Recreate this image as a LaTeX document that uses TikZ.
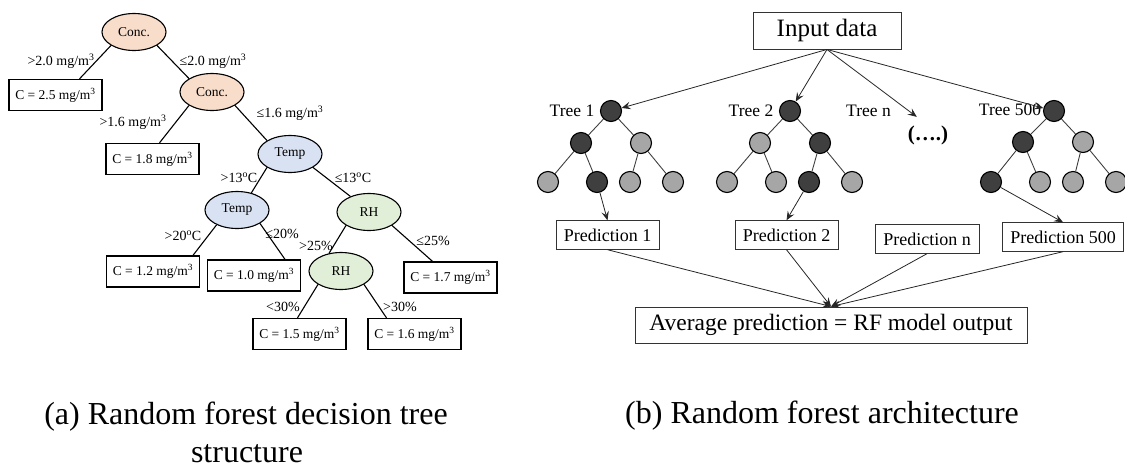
\documentclass[tikz,border=0pt]{standalone}
\usepackage{fontspec}
\setmainfont{Liberation Serif}
\usetikzlibrary{arrows.meta,shapes.geometric}

\definecolor{concfill}{HTML}{F8DDCB}
\definecolor{tempfill}{HTML}{D9E2F2}
\definecolor{rhfill}{HTML}{E1EFD8}
\definecolor{darknode}{HTML}{3F3F3F}
\definecolor{lightnode}{HTML}{A6A6A6}
\definecolor{edgegray}{HTML}{404040}

\tikzset{
  split/.style={ellipse, draw=black, line width=1.1pt, minimum width=64pt,
    minimum height=37pt, inner sep=0pt, font=\fontsize{13.5}{16}\selectfont},
  leafbox/.style={rectangle, draw=black, line width=1.3pt, minimum width=93pt,
    minimum height=31pt, inner sep=0pt, font=\fontsize{13.5}{16}\selectfont},
  cond/.style={inner sep=0pt, font=\fontsize{14}{16}\selectfont},
  tedge/.style={draw=black, line width=1.1pt},
  dnode/.style={circle, draw=black, line width=1.1pt, fill=darknode,
    minimum size=21pt, inner sep=0pt},
  lnode/.style={circle, draw=black, line width=1.1pt, fill=lightnode,
    minimum size=21pt, inner sep=0pt},
  branch/.style={draw=edgegray, line width=0.9pt},
  flow/.style={draw=black!85, line width=0.8pt,
    -{Stealth[length=9pt,width=7.5pt,inset=3.5pt]}},
  predbox/.style={rectangle, draw=black!80, line width=0.9pt, minimum height=28.5pt,
    inner sep=0pt, font=\fontsize{18}{20}\selectfont},
  treelabel/.style={inner sep=0pt, font=\fontsize{17.5}{20}\selectfont},
  caption/.style={inner sep=0pt, anchor=base, font=\fontsize{32}{36}\selectfont}
}

\begin{document}
\begin{tikzpicture}[x=1pt, y=-1pt]
\useasboundingbox (0,0) rectangle (1125,469);

% ---------------- (a) single decision tree ----------------
\node[split, fill=concfill] (conc1) at (134,32) {Conc.};
\node[split, fill=concfill] (conc2) at (212,92) {Conc.};
\node[split, fill=tempfill] (temp1) at (290,154) {Temp};
\node[split, fill=tempfill] (temp2) at (237,210) {Temp};
\node[split, fill=rhfill] (rh1) at (369,212) {RH};
\node[split, fill=rhfill] (rh2) at (341,271) {RH};

\node[leafbox] (c25) at (55.5,95) {C = 2.5 mg/m\textsuperscript{3}};
\node[leafbox] (c18) at (152.5,159) {C = 1.8 mg/m\textsuperscript{3}};
\node[leafbox] (c12) at (153,271.5) {C = 1.2 mg/m\textsuperscript{3}};
\node[leafbox] (c10) at (254,275.5) {C = 1.0 mg/m\textsuperscript{3}};
\node[leafbox] (c17) at (450.5,277.5) {C = 1.7 mg/m\textsuperscript{3}};
\node[leafbox] (c15) at (299.5,334) {C = 1.5 mg/m\textsuperscript{3}};
\node[leafbox] (c16) at (414.5,334) {C = 1.6 mg/m\textsuperscript{3}};

\draw[tedge] (conc1.south west) -- ([xshift=24pt]c25.north);
\draw[tedge] (conc1.south east) -- (conc2.north west);
\draw[tedge] (conc2.south west) -- ([xshift=7pt]c18.north);
\draw[tedge] (conc2.south east) -- (temp1.north west);
\draw[tedge] (temp1.south west) -- (temp2.50);
\draw[tedge] (temp1.south east) -- (rh1.140);
\draw[tedge] (temp2.216) -- ([xshift=40pt]c12.north);
\draw[tedge] (temp2.south east) -- ([xshift=31pt]c10.north);
\draw[tedge] (rh1.south west) -- (rh2.124);
\draw[tedge] (rh1.south east) -- ([xshift=-18pt]c17.north);
\draw[tedge] (rh2.south west) -- ([xshift=-2pt]c15.north);
\draw[tedge] (rh2.south east) -- ([xshift=-28pt]c16.north);

\node[cond] (l1) at (61,61) {>2.0 mg/m\textsuperscript{3}};
\node[cond] (l2) at (213,61) {≤2.0 mg/m\textsuperscript{3}};
\node[cond] (l3) at (133,122) {>1.6 mg/m\textsuperscript{3}};
\node[cond] (l4) at (290,113) {≤1.6 mg/m\textsuperscript{3}};
\node[cond] (l5) at (239,178) {>13\textsuperscript{o}C};
\node[cond] (l6) at (353,178) {≤13\textsuperscript{o}C};
\node[cond] (l7) at (183,236) {>20\textsuperscript{o}C};
\node[cond] (l8) at (282,234) {≤20\%};
\node[cond] (l9) at (316,246) {>25\%};
\node[cond] (l10) at (433,241) {≤25\%};
\node[cond] (l11) at (283,307) {<30\%};
\node[cond] (l12) at (400,307) {>30\%};

% ---------------- (b) forest of trees ----------------
\node[rectangle, draw=black!80, line width=0.9pt, minimum width=148pt, minimum height=37pt,
  inner sep=0pt, font=\fontsize{25}{28}\selectfont] (input) at (827,30.5) {Input data};

% tree 1
\node[dnode] (t1r) at (611,111) {};
\node[dnode] (t1a) at (581,143) {};
\node[lnode] (t1b) at (641,143) {};
\node[lnode] (t1c1) at (548,182) {};
\node[dnode] (t1c2) at (597,182) {};
\node[lnode] (t1c3) at (630,182) {};
\node[lnode] (t1c4) at (673,182) {};
% tree 2
\node[dnode] (t2r) at (790,111) {};
\node[lnode] (t2a) at (760,143) {};
\node[dnode] (t2b) at (820,143) {};
\node[lnode] (t2c1) at (727,182) {};
\node[lnode] (t2c2) at (776,182) {};
\node[dnode] (t2c3) at (809,182) {};
\node[lnode] (t2c4) at (852,182) {};
% tree 500
\node[dnode] (t5r) at (1054,111) {};
\node[dnode] (t5a) at (1023,142) {};
\node[lnode] (t5b) at (1083,142) {};
\node[dnode] (t5c1) at (991,182) {};
\node[lnode] (t5c2) at (1040,182) {};
\node[lnode] (t5c3) at (1073,182) {};
\node[lnode] (t5c4) at (1116,182) {};

\foreach \t in {t1,t2,t5}{
  \draw[branch] (\t r) -- (\t a);
  \draw[branch] (\t r) -- (\t b);
  \draw[branch] (\t a) -- (\t c1);
  \draw[branch] (\t a) -- (\t c2);
  \draw[branch] (\t b) -- (\t c3);
  \draw[branch] (\t b) -- (\t c4);
}

\node[treelabel] (tl1) at (572,111) {Tree 1};
\node[treelabel] (tl2) at (751,111) {Tree 2};
\node[treelabel] (tln) at (868.5,111) {Tree n};
\node[treelabel] (tl5) at (1010,110) {Tree 500};
\node[inner sep=0pt, font=\fontsize{21}{24}\selectfont\bfseries] (dots) at (928,135) {(….)};

\node[predbox, minimum width=103pt] (p1) at (607.5,235) {Prediction 1};
\node[predbox, minimum width=103pt] (p2) at (786.5,235) {Prediction 2};
\node[predbox, minimum width=104pt] (pn) at (927,239) {Prediction n};
\node[predbox, minimum width=121pt] (p5) at (1063,237) {Prediction 500};

\node[rectangle, draw=black!80, line width=0.9pt, minimum width=392pt, minimum height=36pt,
  inner sep=0pt, font=\fontsize{23.5}{26}\selectfont] (avg) at (831,325)
  {Average prediction = RF model output};

\draw[flow] (input.south) -- (t1r);
\draw[flow] (input.south) -- (t2r);
\draw[flow, shorten >=14pt] (input.south) -- (dots.north);
\draw[flow] (input.south) -- (t5r);

\draw[flow] (t1c2) -- (p1.north);
\draw[flow] (t2c3) -- (p2.north);
\draw[flow] (t5c1) -- (p5.north);

\draw[flow] (p1.south) -- (avg.north);
\draw[flow] (p2.south) -- (avg.north);
\draw[flow] (pn.south) -- (avg.north);
\draw[flow] (p5.south) -- (avg.north);

% ---------------- captions ----------------
\node[caption] (capa1) at (246,424) {(a) Random forest decision tree};
\node[caption] (capa2) at (247,462) {structure};
\node[caption] (capb) at (822,423) {(b) Random forest architecture};
\end{tikzpicture}
\end{document}
